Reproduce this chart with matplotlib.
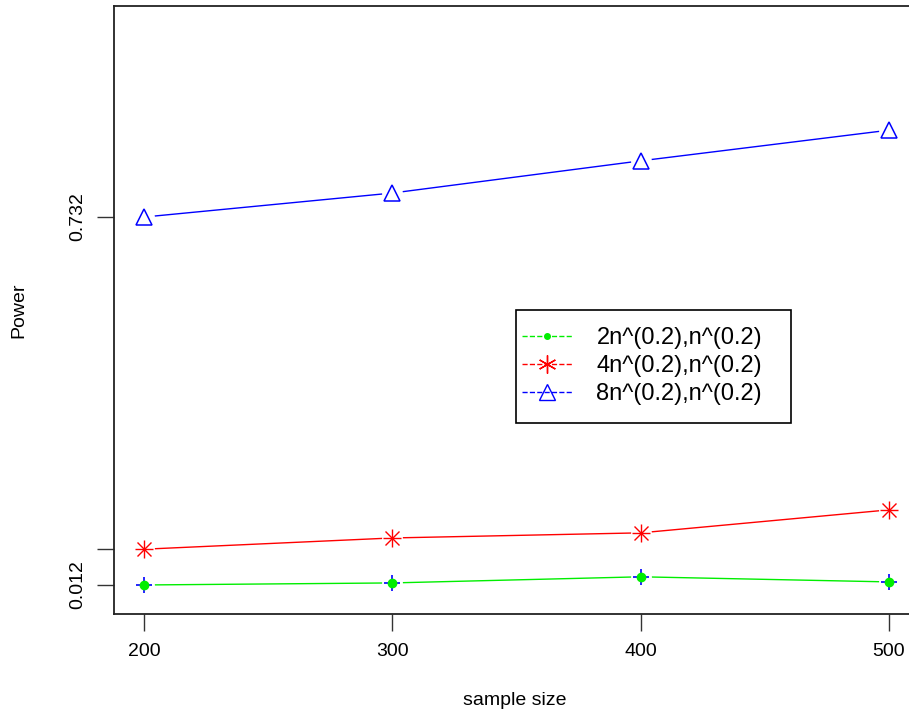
import matplotlib
matplotlib.use("Agg")
import matplotlib.pyplot as plt
from matplotlib.lines import Line2D
from matplotlib.patches import Rectangle

plt.rcParams['font.family'] = ['Liberation Sans', 'DejaVu Sans']

sample_size = [200, 300, 400, 500]
power_2n = [0.012, 0.016, 0.028, 0.018]
power_4n = [0.082, 0.104, 0.114, 0.159]
power_8n = [0.732, 0.779, 0.842, 0.902]
labels = ["2n^(0.2),n^(0.2)", "4n^(0.2),n^(0.2)", "8n^(0.2),n^(0.2)"]
y_ticks = [0.012, 0.082, 0.732]
y_tick_labels = ["0.012", "", "0.732"]
x_ticks = [200, 300, 400, 500]

W, H = 909, 710
fig = plt.figure(figsize=(W / 100, H / 100), dpi=100)
ax = fig.add_axes([114 / W, (H - 614) / H, 801 / W, 608 / H])
ax.set_xlim(187.9, 510.5)
ax.set_ylim(-0.0448, 1.145)

def draw(xs, ys, color, kind):
    ax.plot(xs, ys, color=color, lw=1, zorder=2)
    # white gaps around points (R type="b")
    ax.plot(xs, ys, ls='none', marker='o', ms=15, mfc='white', mec='none', zorder=3)
    if kind == 'dot':
        ax.plot(xs, ys, ls='none', marker='+', ms=12, mew=1.2, color='blue', zorder=4)
        ax.plot(xs, ys, ls='none', marker='o', ms=6, color=color, mec=color, zorder=5)
    elif kind == 'star':
        ax.plot(xs, ys, ls='none', marker='+', ms=13, mew=1, color=color, zorder=4)
        ax.plot(xs, ys, ls='none', marker='x', ms=10, mew=1, color=color, zorder=4)
    else:
        ax.plot(xs, ys, ls='none', marker='^', ms=11, mew=1.1, mfc='none', mec=color, zorder=4)

draw(sample_size, power_2n, '#00ee00', 'dot')
draw(sample_size, power_4n, 'red', 'star')
draw(sample_size, power_8n, 'blue', 'tri')

ax.set_xticks(x_ticks)
ax.set_xticklabels([str(v) for v in x_ticks])
ax.set_yticks(y_ticks)
ax.set_yticklabels(y_tick_labels, rotation=90, va='center')
ax.tick_params(axis='both', labelsize=14, length=12, width=1, color='#333333')
ax.tick_params(axis='x', pad=9)
ax.tick_params(axis='y', pad=8)
for s in ax.spines.values():
    s.set_linewidth(1.3)
    s.set_color('#222222')

ax.set_xlabel("sample size", fontsize=14, labelpad=23)
ax.set_ylabel("Power", fontsize=14, labelpad=30)

handles = [
    Line2D([], [], color='#00ee00', ls='--', lw=1, marker='o', ms=4),
    Line2D([], [], color='red', ls='--', lw=1, marker=(6, 2, 0), ms=13),
    Line2D([], [], color='blue', ls='--', lw=1, marker='^', ms=11, mfc='none'),
]
leg = ax.legend(handles, labels, loc='center left',
                bbox_to_anchor=(522 / W, (H - 366) / H), bbox_transform=fig.transFigure,
                fontsize=17, frameon=False,
                handlelength=2.1, handletextpad=1.05, labelspacing=0.25,
                borderpad=0, borderaxespad=0)
fig.add_artist(Rectangle((516 / W, (H - 423) / H), 275 / W, 113 / H,
                         transform=fig.transFigure, fill=False,
                         edgecolor='black', lw=1.2, zorder=10))

fig.savefig("out.png", dpi=100)
